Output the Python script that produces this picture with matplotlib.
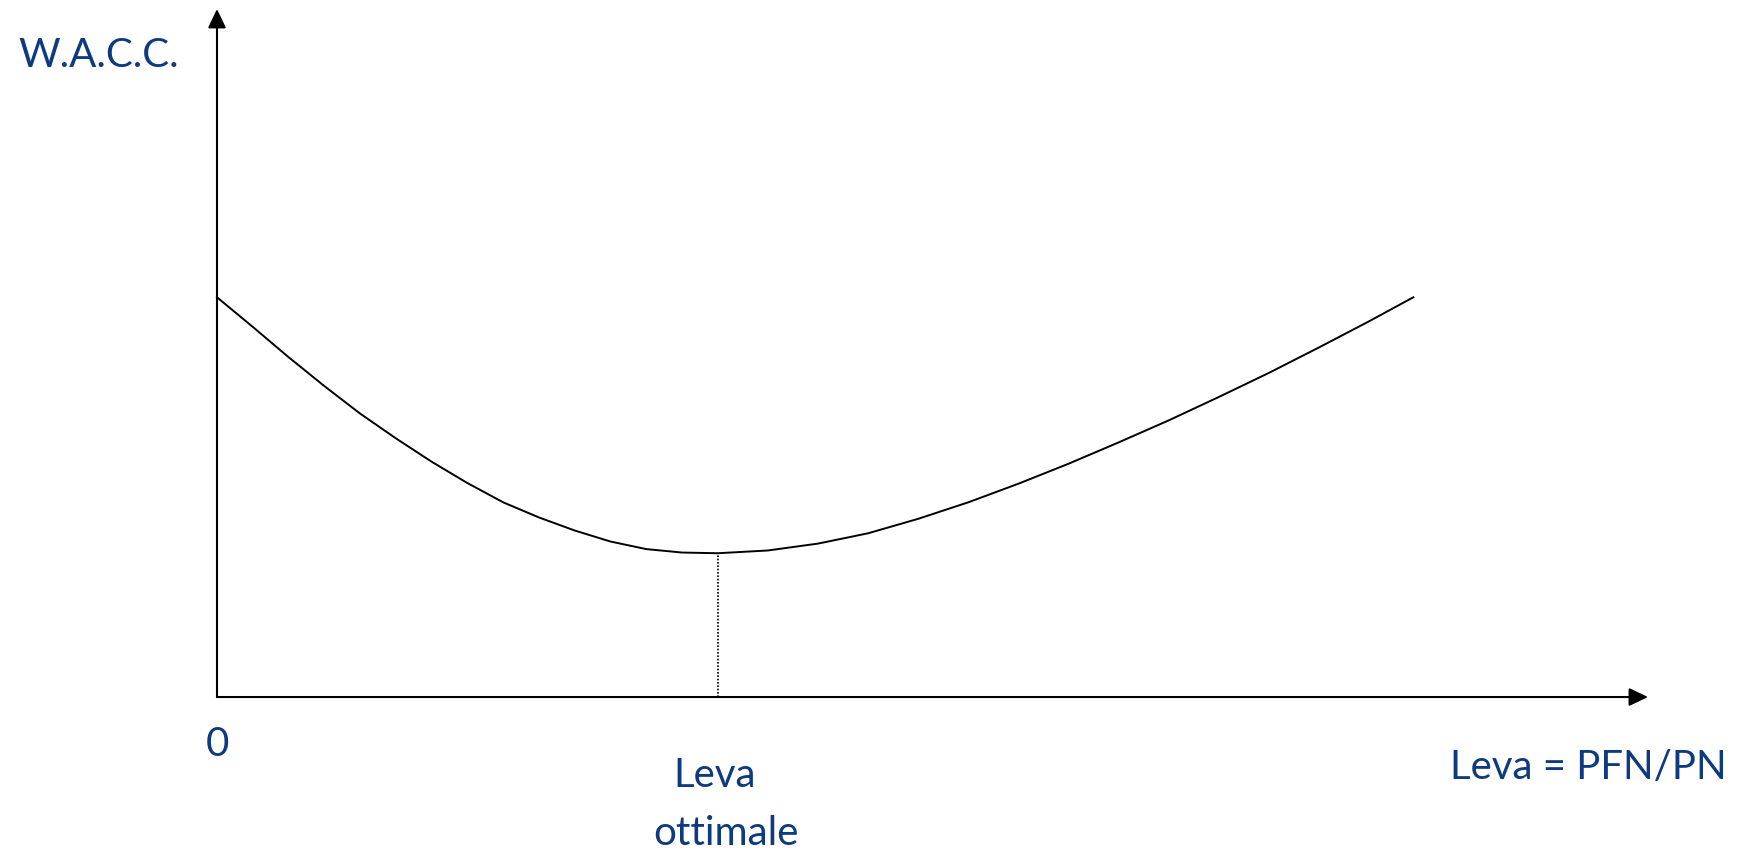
import numpy as np
import matplotlib
matplotlib.use("Agg")
import matplotlib.pyplot as plt

# curve (leverage vs W.A.C.C., arbitrary units)
leva = [0.0, 0.25, 0.5, 0.75, 1.0, 1.25, 1.5, 1.75, 2.0, 2.25, 2.5, 2.75,
        3.0, 3.25, 3.5,
        3.85, 4.2, 4.55, 4.9, 5.25, 5.6, 5.95, 6.3, 6.65, 7.0, 7.35, 7.7,
        8.05, 8.36]
wacc = [5.81, 5.38, 4.94, 4.52, 4.12, 3.76, 3.42, 3.11, 2.83, 2.61, 2.42, 2.26,
        2.15, 2.10, 2.09,
        2.13, 2.23, 2.38, 2.59, 2.83, 3.10, 3.39, 3.70, 4.02, 4.36, 4.71, 5.08,
        5.46, 5.81]
leva_ottimale = 3.5
wacc_min = 2.09
x_max = 10.0
y_max = 10.0

blu = '#0E3A80'
font = 'Lato'

fig = plt.figure(figsize=(17.46, 8.51), dpi=100)
ax = fig.add_axes([0, 0, 1, 1])
ax.set_xlim(-1.5164, 10.685)
ax.set_ylim(-2.238, 10.131)
ax.axis('off')

# axes with arrows
arrow = dict(arrowstyle='-|>,head_length=1.15,head_width=0.55', color='black',
             lw=1.5, shrinkA=0, shrinkB=0)
ax.annotate('', xy=(x_max, 0), xytext=(0, 0), arrowprops=arrow)
ax.annotate('', xy=(0, y_max), xytext=(0, 0), arrowprops=arrow)

ax.plot(leva, wacc, color='black', lw=1.4, solid_joinstyle='round')
ax.plot([leva_ottimale, leva_ottimale], [0, wacc_min], color='black',
        lw=1.2, linestyle=(0, (1, 1)))

ax.text(-1.39, 9.16, 'W.A.C.C.', color=blu, fontsize=29, family=font,
        ha='left', va='baseline')
ax.text(0, -0.853, '0', color=blu, fontsize=29, family=font,
        ha='center', va='baseline')
ax.text(3.48, -1.308, 'Leva', color=blu, fontsize=29, family=font,
        ha='center', va='baseline')
ax.text(3.557, -2.151, 'ottimale', color=blu, fontsize=29, family=font,
        ha='center', va='baseline')
ax.text(8.616, -1.19, 'Leva = PFN/PN', color=blu, fontsize=29, family=font,
        ha='left', va='baseline')

fig.savefig('out.png', dpi=100, facecolor='white')
